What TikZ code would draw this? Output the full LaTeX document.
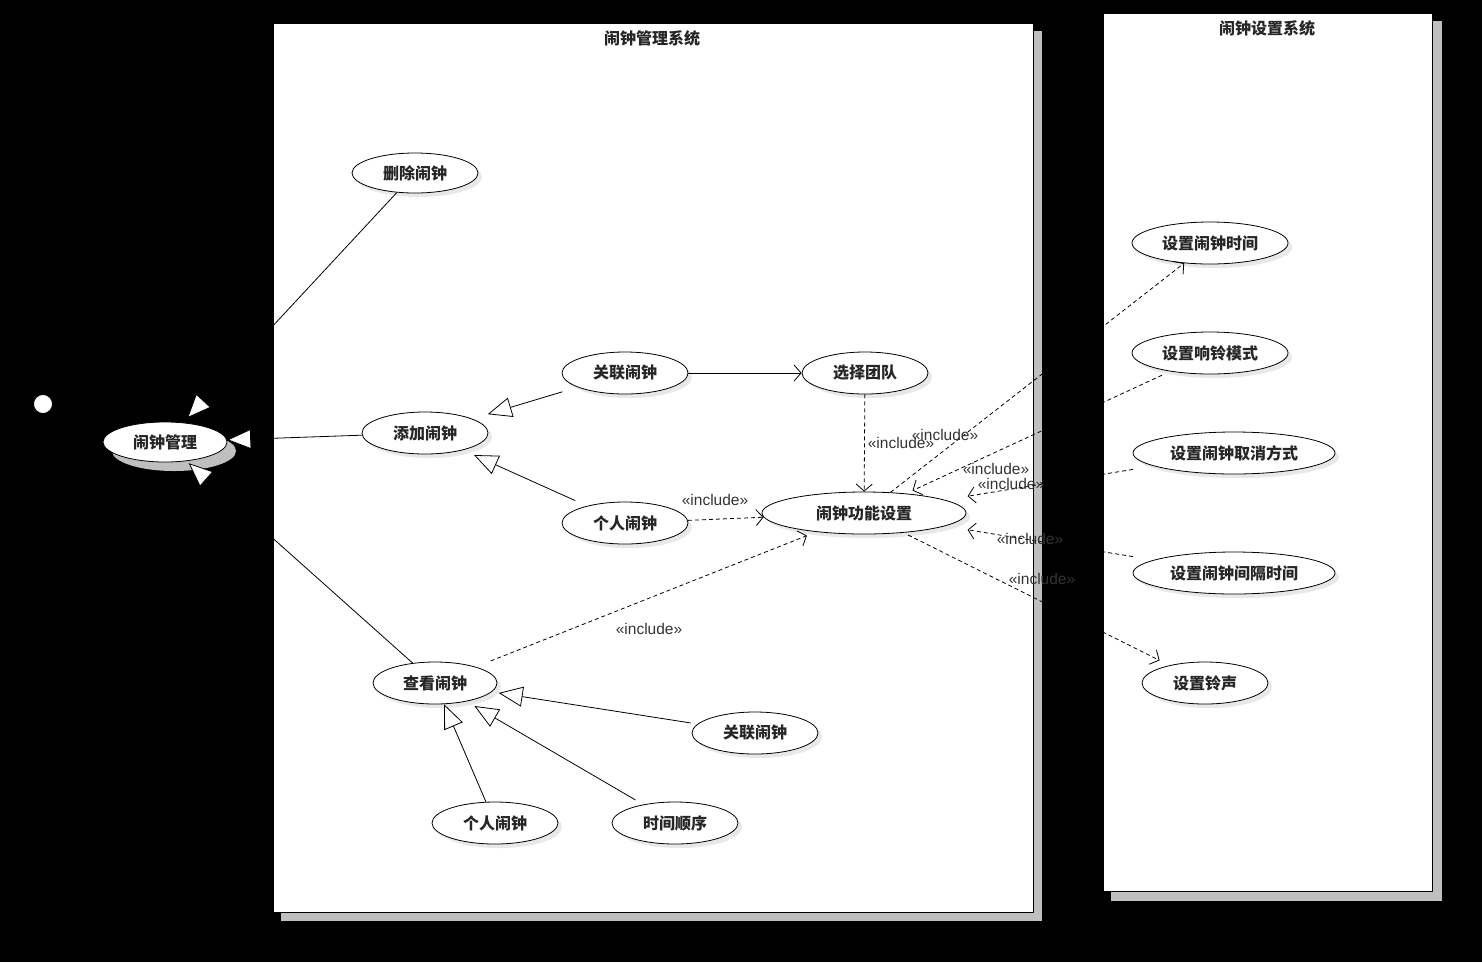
\documentclass[tikz,border=0pt]{standalone}
\usepackage{fontspec}
\setmainfont{Liberation Sans}
\newfontfamily\cjk{Noto Sans CJK SC}
\usetikzlibrary{shapes.geometric,arrows.meta}
\tikzset{
  uc/.style={ellipse, draw=black, fill=white, line width=0.8pt, inner sep=0pt,
    font=\cjk\fontsize{16}{18}\selectfont, text=black!85},
  ucshadow/.style={fill=black!9},
  title/.style={font=\cjk\bfseries\fontsize{16}{18}\selectfont, text=black!85},
  inclabel/.style={font=\fontsize{15.5}{18}\selectfont, text=black!80, inner sep=0pt},
  gen/.style={line width=0.8pt, -{Triangle[length=24pt,width=20pt,fill=white]}},
  inc/.style={line width=0.8pt, dash pattern=on 4pt off 3pt, -{Straight Barb[length=7pt,width=16pt]}},
  assoc/.style={line width=0.8pt, -{Straight Barb[length=7pt,width=16pt]}},
  boxshadow/.style={fill=black!25},
}
\newcommand\usecase[6]{%
  \fill[ucshadow] (#2+4,#3+4) ellipse [x radius=#4pt, y radius=#5pt];
  \node[uc, minimum width={2*#4pt}, minimum height={2*#5pt}] (#1) at (#2,#3) {\bfseries #6};}
\begin{document}
\begin{tikzpicture}[x=1pt,y=-1pt]
\fill[black] (0,0) rectangle (1482,962);
\useasboundingbox (0,0) rectangle (1482,962);
% system boxes
\fill[boxshadow] (281,31) rectangle (1042,921);
\draw[fill=white, line width=0.8pt] (273,23) rectangle (1033,912);
\fill[boxshadow] (1111,21) rectangle (1442,901);
\draw[fill=white, line width=0.8pt] (1103,13) rectangle (1432,891);
\node[title] (t1) at (652,38) {闹钟管理系统};
\node[title] (t2) at (1267,28) {闹钟设置系统};
% actor
\draw[black, line width=0.8pt] (43,413) -- (43,445) (25,425) -- (61,425) (43,445) -- (28,468) (43,445) -- (58,468);
\draw[fill=white, line width=0.8pt] (43,404) circle [radius=9.5pt];
% main use case
\fill[black!25] (174,451) ellipse [x radius=62pt, y radius=20pt];
\node[uc, minimum width=124pt, minimum height=40pt] (mgmt) at (165,442) {\bfseries 闹钟管理};
% use cases
\usecase{del}{415}{173}{63}{20}{删除闹钟}
\usecase{rel1}{625}{373}{63}{21}{关联闹钟}
\usecase{team}{865}{373}{63}{21}{选择团队}
\usecase{add}{425}{433}{63}{21}{添加闹钟}
\usecase{per1}{625}{523}{63}{21}{个人闹钟}
\usecase{fs}{864}{513}{102}{21}{闹钟功能设置}
\usecase{view}{435}{683}{62}{21}{查看闹钟}
\usecase{rel2}{755}{733}{63}{21}{关联闹钟}
\usecase{per2}{495}{823}{63}{21}{个人闹钟}
\usecase{seq}{675}{823}{63}{21}{时间顺序}
\usecase{st}{1210}{243}{78}{21}{设置闹钟时间}
\usecase{sr}{1210}{353}{78}{21}{设置响铃模式}
\usecase{sc}{1234}{453}{101}{21}{设置闹钟取消方式}
\usecase{si}{1234}{573}{101}{21}{设置闹钟间隔时间}
\usecase{sb}{1205}{683}{63}{21}{设置铃声}
% generalizations
\draw[gen, shorten >=6pt] (del) -- (mgmt);
\draw[gen] (add) -- (mgmt);
\draw[gen, shorten >=3pt] (view) -- (mgmt);
\draw[gen, shorten <=16pt, shorten >=16pt] (rel1) -- (add);
\draw[gen, shorten <=13pt, shorten >=12pt] (per1) -- (add);
\draw[gen, shorten <=7pt, shorten >=7pt] (rel2) -- (view);
\draw[gen] (per2) -- (view);
\draw[gen, shorten <=9pt, shorten >=9pt] (seq) -- (view);
% association
\draw[assoc] (rel1) -- (team);
% includes
\draw[inc] (team) -- (fs);
\draw[inc] (per1) -- (fs);
\draw[inc, shorten <=16pt, shorten >=10pt] (view) -- (fs);
\draw[inc] (fs) -- (st);
\draw[inc, shorten <=9pt, shorten >=7pt] (sr) -- (fs);
\draw[inc, shorten <=21pt, shorten >=23pt] (sc) -- (fs);
\draw[inc, shorten <=21pt, shorten >=23pt] (si) -- (fs);
\draw[inc, shorten <=5pt, shorten >=11pt] (fs) -- (sb);
% include labels
\node[inclabel] (l1) at (901,443) {«include»};
\node[inclabel] (l2) at (715,500) {«include»};
\node[inclabel] (l3) at (649,629) {«include»};
\node[inclabel] (l4) at (945,435) {«include»};
\node[inclabel] (l5) at (996,469) {«include»};
\node[inclabel] (l6) at (1011,484) {«include»};
\node[inclabel] (l7) at (1030,539) {«include»};
\node[inclabel] (l8) at (1042,579) {«include»};
\end{tikzpicture}
\end{document}
